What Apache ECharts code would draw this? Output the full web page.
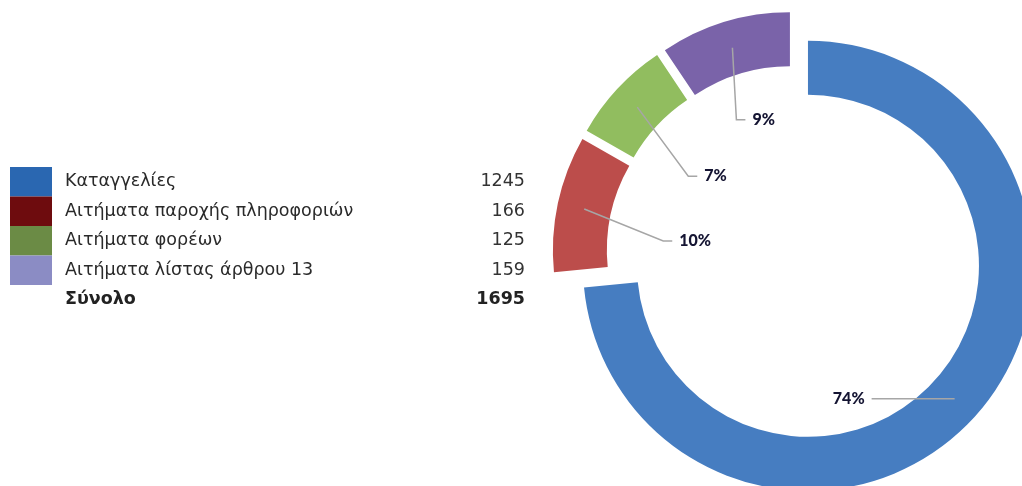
<!DOCTYPE html>
<html>
<head>
<meta charset="utf-8">
<script src="https://cdn.jsdelivr.net/npm/echarts@6/dist/echarts.min.js"></script>
<style>
  html, body { margin: 0; padding: 0; background: #fff; }
  #pie { width: 1022px; height: 486px; }
</style>
</head>
<body>
<div id="pie"></div>
<script>
  // κατηγορίες και πλήθος αιτημάτων
  const categories = ['Καταγγελίες', 'Αιτήματα παροχής πληροφοριών', 'Αιτήματα φορέων', 'Αιτήματα λίστας άρθρου 13'];
  const counts = [1245, 166, 125, 159];
  const totalLabel = 'Σύνολο';

  // χρώματα κομματιών και υπομνήματος
  const sliceColors = ['#467DC1', '#BC4D4B', '#91BD5F', '#7A63A9'];
  const legendColors = ['#2A67B1', '#6E0C0E', '#6B8B45', '#8B8CC4'];
  // πού πάει η ετικέτα σε σχέση με την αρχή της γραμμής (px)
  const labelShift = [[-83, 0], [79, 32], [51, 69], [4, 72]];

  const total = counts.reduce((a, b) => a + b, 0);
  const center = [795, 254];
  const radius = [171, 225];
  const explode = 17.5;

  // σημείο στη μέση του δακτυλίου, στη μέση γωνία του κομματιού (με τη μετατόπιση)
  function anchor(i) {
    let before = 0;
    for (let k = 0; k < i; k++) before += counts[k];
    let mid = (before + counts[i] / 2) / total * 2 * Math.PI;
    let r = (radius[0] + radius[1]) / 2 + explode;
    return [center[0] + r * Math.sin(mid), center[1] - r * Math.cos(mid)];
  }

  const font = 'DejaVu Sans';
  const rowRich = {
    n: { fontFamily: font, fontSize: 17.5, color: '#2a2a2a', width: 400, padding: [0, 0, 0, 8] },
    v: { fontFamily: font, fontSize: 17.5, color: '#333', width: 60, align: 'right' },
    nb: { fontFamily: font, fontSize: 17.5, color: '#222', fontWeight: 'bold', width: 400, padding: [0, 0, 0, 8] },
    vb: { fontFamily: font, fontSize: 17.5, color: '#222', fontWeight: 'bold', width: 60, align: 'right' }
  };

  const pieData = categories.map((c, i) => ({ name: c, value: counts[i] }));

  let chartDom = document.getElementById('pie');
  let myChart = echarts.init(chartDom);
  let option;

  option = {
    animation: false,
    title: {
      left: 10 + 42 + 5,
      top: 290,
      padding: 0,
      text: '{nb|' + totalLabel + '}{vb|' + total + '}',
      textStyle: { rich: rowRich }
    },
    legend: {
      orient: 'vertical',
      left: 10,
      top: 167,
      padding: 0,
      icon: 'rect',
      itemWidth: 42,
      itemHeight: 29.5,
      itemGap: 0,
      selectedMode: false,
      data: categories.map((c, i) => ({ name: c, itemStyle: { color: legendColors[i] } })),
      formatter: function (name) {
        return '{n|' + name + '}{v|' + counts[categories.indexOf(name)] + '}';
      },
      textStyle: { rich: rowRich }
    },
    series: [
      {
        // ο δακτύλιος, όλα τα κομμάτια "ανοιγμένα"
        type: 'pie',
        z: 2,
        center: center,
        radius: radius,
        startAngle: 90,
        clockwise: true,
        selectedMode: 'multiple',
        selectedOffset: explode,
        emphasis: { scale: false },
        label: { show: false },
        labelLine: { show: false },
        data: pieData.map((d, i) => ({
          name: d.name,
          value: d.value,
          selected: true,
          itemStyle: { color: sliceColors[i] }
        }))
      },
      {
        // μόνο οι ετικέτες ποσοστών, πάνω από τον δακτύλιο
        type: 'pie',
        z: 5,
        silent: true,
        center: center,
        radius: radius,
        startAngle: 90,
        clockwise: true,
        percentPrecision: 0,
        avoidLabelOverlap: false,
        itemStyle: { color: 'rgba(0,0,0,0)' },
        emphasis: { disabled: true },
        data: pieData,
        label: {
          formatter: '{d}%',
          fontFamily: 'Lato',
          fontWeight: 900,
          fontSize: 16,
          color: '#141432'
        },
        labelLine: {
          show: true,
          lineStyle: { color: '#A6A6A6', width: 1.5 }
        },
        labelLayout: function (params) {
          let i = params.dataIndex;
          let s = anchor(i);
          let e = [s[0] + labelShift[i][0], s[1] + labelShift[i][1]];
          if (labelShift[i][0] < 0) {
            return { x: e[0] - 7, y: e[1], align: 'right', verticalAlign: 'middle', labelLinePoints: [s, e, e] };
          }
          let t = [e[0] + 9, e[1]];
          return { x: t[0] + 7, y: t[1], align: 'left', verticalAlign: 'middle', labelLinePoints: [s, e, t] };
        }
      }
    ]
  };
  option && myChart.setOption(option);
</script>
</body>
</html>
